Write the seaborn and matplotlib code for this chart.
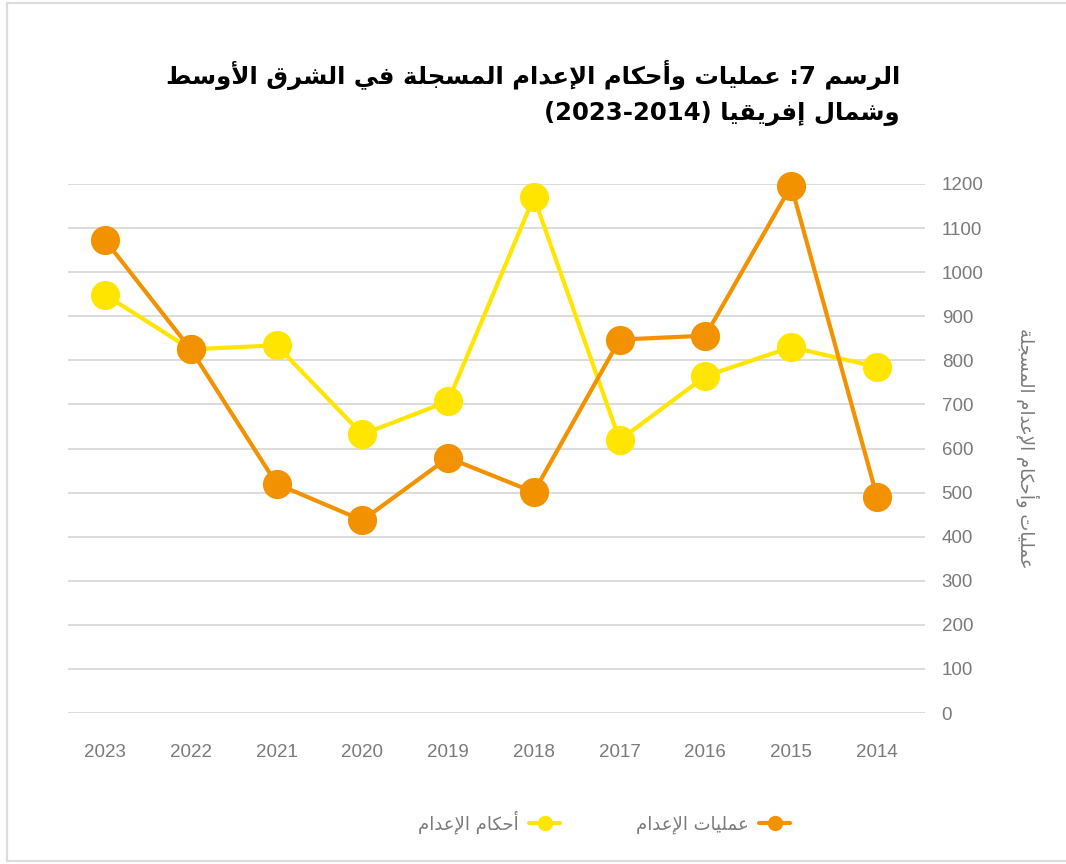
import matplotlib
matplotlib.use("Agg")
import matplotlib.pyplot as plt
from matplotlib.lines import Line2D
import seaborn as sns
import pandas as pd
import re

# ---------------- data ----------------
years = ["2023", "2022", "2021", "2020", "2019", "2018", "2017", "2016", "2015", "2014"]
executions = [1073, 825, 520, 437, 579, 501, 847, 856, 1196, 491]
sentences = [949, 825, 834, 632, 707, 1170, 619, 764, 830, 785]
y_ticks = [0, 100, 200, 300, 400, 500, 600, 700, 800, 900, 1000, 1100, 1200]

title_line1 = "الرسم 7: عمليات وأحكام الإعدام المسجلة في الشرق الأوسط"
title_line2 = "وشمال إفريقيا (2014-2023)"
y_label = "عمليات وأحكام الإعدام المسجلة"
label_exec = "عمليات الإعدام"
label_sent = "أحكام الإعدام"

ORANGE = "#F39200"
YELLOW = "#FFE500"
GRAY_TXT = "#7a7a7a"
GRID = "#dcdcdc"

# ---------------- minimal Arabic shaping (matplotlib has no complex text layout) ----------------
FORMS = {
    "ا": ("\uFE8D", "\uFE8E", None, None),
    "أ": ("\uFE83", "\uFE84", None, None),
    "إ": ("\uFE87", "\uFE88", None, None),
    "آ": ("\uFE81", "\uFE82", None, None),
    "ب": ("\uFE8F", "\uFE90", "\uFE91", "\uFE92"),
    "ت": ("\uFE95", "\uFE96", "\uFE97", "\uFE98"),
    "ة": ("\uFE93", "\uFE94", None, None),
    "ج": ("\uFE9D", "\uFE9E", "\uFE9F", "\uFEA0"),
    "ح": ("\uFEA1", "\uFEA2", "\uFEA3", "\uFEA4"),
    "د": ("\uFEA9", "\uFEAA", None, None),
    "ر": ("\uFEAD", "\uFEAE", None, None),
    "س": ("\uFEB1", "\uFEB2", "\uFEB3", "\uFEB4"),
    "ش": ("\uFEB5", "\uFEB6", "\uFEB7", "\uFEB8"),
    "ط": ("\uFEC1", "\uFEC2", "\uFEC3", "\uFEC4"),
    "ع": ("\uFEC9", "\uFECA", "\uFECB", "\uFECC"),
    "ف": ("\uFED1", "\uFED2", "\uFED3", "\uFED4"),
    "ق": ("\uFED5", "\uFED6", "\uFED7", "\uFED8"),
    "ك": ("\uFED9", "\uFEDA", "\uFEDB", "\uFEDC"),
    "ل": ("\uFEDD", "\uFEDE", "\uFEDF", "\uFEE0"),
    "م": ("\uFEE1", "\uFEE2", "\uFEE3", "\uFEE4"),
    "ن": ("\uFEE5", "\uFEE6", "\uFEE7", "\uFEE8"),
    "ه": ("\uFEE9", "\uFEEA", "\uFEEB", "\uFEEC"),
    "و": ("\uFEED", "\uFEEE", None, None),
    "ي": ("\uFEF1", "\uFEF2", "\uFEF3", "\uFEF4"),
}
LAM_ALEF = {"ا": ("\uFEFB", "\uFEFC", None, None),
            "أ": ("\uFEF7", "\uFEF8", None, None),
            "إ": ("\uFEF9", "\uFEFA", None, None),
            "آ": ("\uFEF5", "\uFEF6", None, None)}


def shape_word(word):
    toks = []
    i = 0
    while i < len(word):
        c = word[i]
        if c == "ل" and i + 1 < len(word) and word[i + 1] in LAM_ALEF:
            toks.append(LAM_ALEF[word[i + 1]])
            i += 2
        elif c in FORMS:
            toks.append(FORMS[c])
            i += 1
        else:
            toks.append(c)
            i += 1
    out = []
    for k, t in enumerate(toks):
        if isinstance(t, str):
            out.append(t)
            continue
        prev = toks[k - 1] if k > 0 else None
        nxt = toks[k + 1] if k + 1 < len(toks) else None
        jp = isinstance(prev, tuple) and prev[2] is not None
        jn = t[2] is not None and isinstance(nxt, tuple)
        if jp and jn:
            out.append(t[3])
        elif jp:
            out.append(t[1])
        elif jn:
            out.append(t[2])
        else:
            out.append(t[0])
    return "".join(reversed(out))


MIRROR = {"(": ")", ")": "("}


def visual(text):
    words = text.split(" ")
    res = []
    for w in reversed(words):
        if any(ch in FORMS for ch in w):
            res.append(shape_word(w))
        else:
            runs = re.findall(r"\d+|\D", w)
            res.append("".join(MIRROR.get(r, r) for r in reversed(runs)))
    return " ".join(res)


# ---------------- plot ----------------
sns.set_theme(style="white")
plt.rcParams["font.family"] = ["Liberation Sans", "DejaVu Sans"]

TITLE_FAM = ["DejaVu Sans"]
TITLE_SIZE = 17.6

fig = plt.figure(figsize=(10.66, 8.64), dpi=100)
W, H = 1066, 864
ax = fig.add_axes([68 / W, 1 - 713 / H, (925 - 68) / W, (713 - 184) / H])

df = pd.DataFrame({"year": years, "executions": executions, "sentences": sentences})

sns.lineplot(data=df, x="year", y="sentences", ax=ax, sort=False, color=YELLOW,
             linewidth=3.0, marker="o", markersize=21, markeredgewidth=0, clip_on=False, zorder=3)
sns.lineplot(data=df, x="year", y="executions", ax=ax, sort=False, color=ORANGE,
             linewidth=3.0, marker="o", markersize=21, markeredgewidth=0, clip_on=False, zorder=4)

ax.set_xlim(-0.431, 9.56)
ax.set_ylim(0, 1200)
ax.set_yticks(y_ticks)
ax.yaxis.tick_right()
ax.yaxis.set_label_position("right")
ax.grid(axis="y", color=GRID, linewidth=1.4)
ax.grid(axis="x", visible=False)
for s in ax.spines.values():
    s.set_visible(False)
ax.tick_params(axis="both", length=0, labelsize=13.5, labelcolor=GRAY_TXT)
ax.tick_params(axis="y", pad=12)
ax.tick_params(axis="x", pad=22)
ax.set_xlabel("")
ax.set_ylabel(visual(y_label), rotation=270, fontsize=13, color=GRAY_TXT,
              family=["DejaVu Sans"], labelpad=40)
if ax.get_legend():
    ax.get_legend().remove()

# title
fig.text(900 / W, 1 - 75 / H, visual(title_line1), ha="right", va="center",
         fontsize=TITLE_SIZE, fontweight="bold", color="black", family=TITLE_FAM)
fig.text(900 / W, 1 - 114 / H, visual(title_line2), ha="right", va="center",
         fontsize=TITLE_SIZE, fontweight="bold", color="black", family=TITLE_FAM)

# legend (RTL: text left of marker)
h_sent = Line2D([], [], color=YELLOW, linewidth=3, marker="o", markersize=11, markeredgewidth=0)
h_exec = Line2D([], [], color=ORANGE, linewidth=3, marker="o", markersize=11, markeredgewidth=0)
leg = fig.legend([h_sent, h_exec], [visual(label_sent), visual(label_exec)],
                 loc="center", bbox_to_anchor=(604 / W, 1 - 822 / H), ncol=2,
                 frameon=False, markerfirst=False, handlelength=1.7, columnspacing=4.2,
                 handletextpad=0.6, prop={"family": "DejaVu Sans", "size": 13})
for t in leg.get_texts():
    t.set_color(GRAY_TXT)

# outer light frame
fig.add_artist(Line2D([7 / W, 7 / W], [1 - 3 / H, 1 - 861 / H], color="#dddddd", linewidth=1.6,
                      transform=fig.transFigure))
fig.add_artist(Line2D([7 / W, 1.0], [1 - 3 / H, 1 - 3 / H], color="#dddddd", linewidth=1.6,
                      transform=fig.transFigure))
fig.add_artist(Line2D([7 / W, 1.0], [1 - 861 / H, 1 - 861 / H], color="#dddddd", linewidth=1.6,
                      transform=fig.transFigure))

fig.savefig("out.png", dpi=100, facecolor="white")
